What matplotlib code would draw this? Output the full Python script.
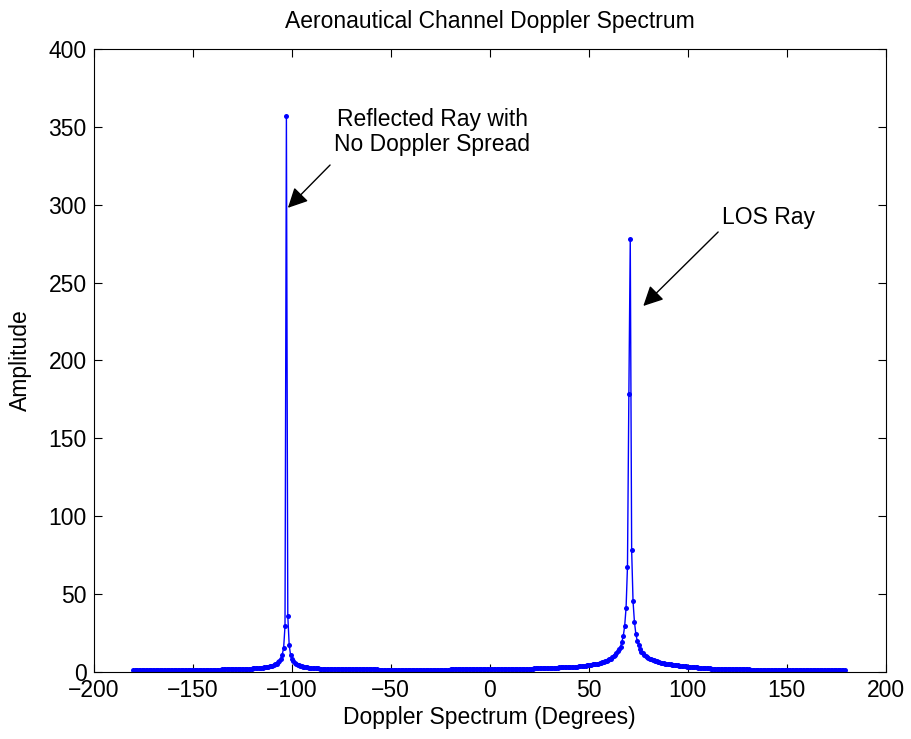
import numpy as np
import matplotlib
matplotlib.use('Agg')
import matplotlib.pyplot as plt

plt.rcParams['font.family'] = ['Liberation Sans', 'DejaVu Sans']

# doppler amplitude, 512 bins spread over -180..180 degrees
amp = [
    1.1, 1.1, 1.1, 1.1, 1.1, 1.1, 1.1, 1.1, 1.1, 1.1, 1.1, 1.1, 1.1, 1.1, 1.1, 1.1,
    1.2, 1.2, 1.2, 1.2, 1.2, 1.2, 1.2, 1.2, 1.2, 1.2, 1.2, 1.2, 1.2, 1.2, 1.2, 1.2,
    1.3, 1.3, 1.3, 1.3, 1.3, 1.3, 1.3, 1.3, 1.3, 1.3, 1.3, 1.3, 1.3, 1.3, 1.3, 1.3,
    1.4, 1.4, 1.4, 1.4, 1.4, 1.4, 1.4, 1.4, 1.5, 1.5, 1.5, 1.5, 1.5, 1.5, 1.5, 1.5,
    1.6, 1.6, 1.6, 1.6, 1.7, 1.7, 1.7, 1.7, 1.7, 1.8, 1.8, 1.8, 1.9, 1.9, 1.9, 2.0,
    2.0, 2.0, 2.1, 2.1, 2.2, 2.2, 2.3, 2.3, 2.4, 2.5, 2.5, 2.6, 2.7, 2.8, 2.9, 3.0,
    3.2, 3.4, 3.6, 3.8, 4.1, 4.4, 4.9, 5.4, 6.1, 7.1, 8.6, 11.2, 15.2, 29.5, 357, 36,
    17.3, 10.9, 8.5, 6.9, 5.9, 5.2, 4.7, 4.2, 3.9, 3.6, 3.4, 3.2, 3.1, 2.9, 2.8, 2.7,
    2.6, 2.5, 2.4, 2.4, 2.3, 2.3, 2.2, 2.2, 2.1, 2.1, 2.0, 2.0, 2.0, 1.9, 1.9, 1.9,
    1.9, 1.8, 1.8, 1.8, 1.8, 1.7, 1.7, 1.7, 1.7, 1.7, 1.7, 1.7, 1.6, 1.6, 1.6, 1.6,
    1.6, 1.6, 1.6, 1.6, 1.6, 1.6, 1.6, 1.6, 1.6, 1.6, 1.6, 1.6, 1.6, 1.6, 1.6, 1.6,
    1.5, 1.5, 1.5, 1.5, 1.5, 1.5, 1.5, 1.5, 1.5, 1.5, 1.5, 1.5, 1.5, 1.5, 1.5, 1.5,
    1.5, 1.5, 1.5, 1.5, 1.5, 1.5, 1.5, 1.5, 1.5, 1.5, 1.5, 1.5, 1.5, 1.5, 1.5, 1.5,
    1.5, 1.5, 1.5, 1.5, 1.5, 1.5, 1.5, 1.5, 1.5, 1.5, 1.5, 1.5, 1.5, 1.5, 1.5, 1.5,
    1.5, 1.5, 1.5, 1.5, 1.6, 1.6, 1.6, 1.6, 1.6, 1.6, 1.6, 1.6, 1.6, 1.6, 1.6, 1.6,
    1.6, 1.6, 1.6, 1.6, 1.6, 1.6, 1.7, 1.7, 1.7, 1.7, 1.7, 1.7, 1.7, 1.7, 1.7, 1.7,
    1.7, 1.7, 1.8, 1.8, 1.8, 1.8, 1.8, 1.8, 1.8, 1.8, 1.8, 1.9, 1.9, 1.9, 1.9, 1.9,
    1.9, 1.9, 2.0, 2.0, 2.0, 2.0, 2.0, 2.1, 2.1, 2.1, 2.1, 2.1, 2.2, 2.2, 2.2, 2.2,
    2.3, 2.3, 2.3, 2.3, 2.4, 2.4, 2.4, 2.5, 2.5, 2.5, 2.6, 2.6, 2.6, 2.7, 2.7, 2.8,
    2.8, 2.8, 2.9, 2.9, 3.0, 3.0, 3.0, 3.1, 3.1, 3.2, 3.3, 3.3, 3.4, 3.4, 3.5, 3.5,
    3.6, 3.7, 3.8, 3.9, 4.0, 4.1, 4.2, 4.3, 4.5, 4.6, 4.8, 4.9, 5.1, 5.2, 5.4, 5.6,
    5.9, 6.2, 6.5, 6.8, 7.2, 7.6, 8.1, 8.6, 9.3, 10.0, 10.9, 11.9, 13.2, 14.8, 16.2, 19.5,
    23.1, 29.7, 41.3, 67.6, 178.5, 278, 78, 45.3, 32.1, 24.6, 20.0, 17.3, 14.8, 13.1, 11.9, 11.0,
    10.2, 9.6, 9.1, 8.6, 8.2, 7.8, 7.5, 7.2, 6.9, 6.6, 6.3, 6.0, 5.8, 5.6, 5.4, 5.25,
    5.1, 4.95, 4.8, 4.65, 4.55, 4.4, 4.3, 4.2, 4.1, 4.0, 3.9, 3.8, 3.7, 3.6, 3.5, 3.4,
    3.3, 3.2, 3.15, 3.05, 3.0, 2.9, 2.85, 2.75, 2.7, 2.6, 2.5, 2.45, 2.4, 2.35, 2.3, 2.2,
    2.15, 2.1, 2.07, 2.05, 2.02, 2.0, 1.98, 1.95, 1.93, 1.9, 1.88, 1.85, 1.83, 1.8, 1.78, 1.75,
    1.73, 1.7, 1.69, 1.68, 1.66, 1.65, 1.64, 1.63, 1.61, 1.6, 1.59, 1.58, 1.57, 1.56, 1.55, 1.54,
    1.53, 1.52, 1.5, 1.5, 1.5, 1.49, 1.48, 1.47, 1.46, 1.45, 1.44, 1.43, 1.42, 1.41, 1.4, 1.4,
    1.4, 1.39, 1.38, 1.37, 1.36, 1.35, 1.35, 1.34, 1.33, 1.33, 1.32, 1.31, 1.31, 1.3, 1.3, 1.29,
    1.29, 1.28, 1.28, 1.27, 1.27, 1.26, 1.26, 1.25, 1.25, 1.25, 1.25, 1.24, 1.24, 1.24, 1.23, 1.23,
    1.23, 1.23, 1.22, 1.22, 1.22, 1.22, 1.21, 1.21, 1.21, 1.21, 1.2, 1.2, 1.2, 1.2, 1.2, 1.2,
]
n_bins = 512
angle = -180 + 360.0 / n_bins * np.arange(len(amp))

xticks = [-200, -150, -100, -50, 0, 50, 100, 150, 200]
yticks = [0, 50, 100, 150, 200, 250, 300, 350, 400]

fs = 16.5

fig = plt.figure(figsize=(9.12, 7.39), dpi=100)
ax = fig.add_axes([0.1027, 0.0907, 0.8684, 0.843])

ax.plot(angle, amp, color='#0000ff', linewidth=1.0, marker='o', markersize=3.6,
        markeredgewidth=0)

ax.set_xlim(-200, 200)
ax.set_ylim(0, 400)
ax.set_xticks(xticks)
ax.set_yticks(yticks)
ax.tick_params(direction='in', length=6, width=0.8, top=True, right=True, labelsize=fs, pad=5)
for s in ax.spines.values():
    s.set_linewidth(0.8)

ax.set_title('Aeronautical Channel Doppler Spectrum', fontsize=fs, pad=15)
ax.set_xlabel('Doppler Spectrum (Degrees)', fontsize=fs, labelpad=3)
ax.set_ylabel('Amplitude', fontsize=fs, labelpad=12)

arrow = dict(arrowstyle='-|>', color='black', linewidth=1.0, mutation_scale=30, shrinkA=0, shrinkB=0)
ax.annotate('', xy=(-101.9, 298), xytext=(-80.6, 325.5), arrowprops=arrow)
ax.text(-29, 346.5, 'Reflected Ray with\nNo Doppler Spread', ha='center', va='center',
        fontsize=fs, linespacing=1.1)
ax.annotate('', xy=(77.6, 235), xytext=(115.4, 282.5), arrowprops=arrow)
ax.text(140.6, 292, 'LOS Ray', ha='center', va='center', fontsize=fs)

fig.savefig('out.png', dpi=100)
